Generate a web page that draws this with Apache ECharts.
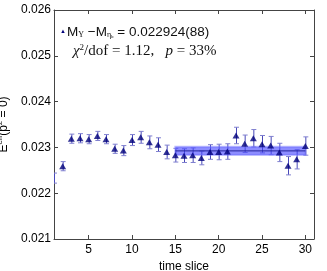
<!DOCTYPE html>
<html>
<head>
<meta charset="utf-8">
<script src="https://cdn.jsdelivr.net/npm/echarts@6/dist/echarts.min.js"></script>
<style>html,body{margin:0;padding:0;background:#fff;}#c{width:327px;height:271px;}</style>
</head>
<body>
<div id="c"></div>
<script>
const timeSlices = [1,2,3,4,5,6,7,8,9,10,11,12,13,14,15,16,17,18,19,20,21,22,23,24,25,26,27,28,29,30];
const effEnergy = [0.02233,0.02259,0.02319,0.02320,0.02318,0.02325,0.02318,0.02297,0.02293,0.02316,
                   0.02322,0.02311,0.02306,0.02290,0.02283,0.02282,0.02283,0.02277,0.02290,0.02290,
                   0.02291,0.02326,0.02308,0.02320,0.02307,0.02304,0.02289,0.02260,0.02274,0.02303];
const effErr = [0.00011,0.00010,0.00010,0.00010,0.00010,0.00010,0.00010,0.00010,0.00011,0.00012,
                0.00013,0.00014,0.00015,0.00015,0.00015,0.00015,0.00016,0.00015,0.00016,0.00017,
                0.00017,0.00018,0.00019,0.00019,0.00019,0.00020,0.00020,0.00020,0.00021,0.00020];
const fitRange = [15, 30];
const fitValue = 0.022924;
const fitErr = 0.000088;
const xMin = 1, xMax = 31;
const xTicks = [5,10,15,20,25,30];

const pts = timeSlices.map((t,i)=>[t, effEnergy[i], effErr[i]]);
const sans = 'Liberation Sans';
const serif = 'Liberation Serif';

const chart = echarts.init(document.getElementById('c'), null, {renderer:'canvas'});
const axisLine = {show:true, lineStyle:{color:'#444', width:1}};
const xBase = {
  type:'value', min:xMin, max:xMax, interval:1,
  axisLine:axisLine,
  axisTick:{show:true, inside:true, length:4, customValues:xTicks, lineStyle:{color:'#444'}},
  splitLine:{show:false}
};
const option = {
  animation:false,
  backgroundColor:'#fff',
  grid:{left:54, right:13, top:10, bottom:32, containLabel:false, outerBoundsMode:'none'},
  xAxis:[Object.assign({}, xBase, {
    position:'bottom',
    axisLabel:{customValues:xTicks, color:'#000', fontFamily:sans, fontSize:12, margin:5},
    name:'time slice', nameLocation:'middle', nameGap:22,
    nameTextStyle:{color:'#000', fontFamily:sans, fontSize:12}
  }), Object.assign({}, xBase, {
    position:'top', axisLabel:{show:false}
  })],
  yAxis:[{
    type:'value', min:0.021, max:0.026, interval:0.001, position:'left',
    axisLine:axisLine,
    axisTick:{show:true, inside:true, length:4, lineStyle:{color:'#444'}},
    axisLabel:{color:'#000', fontFamily:sans, fontSize:12, margin:3, formatter:v=>v.toFixed(3)},
    splitLine:{show:false},
    name:'{n|E}{sup|eff}{n|(p}{sup|2}{n| = 0)}', nameLocation:'middle', nameGap:43, nameRotate:90,
    nameTextStyle:{rich:{
      n:{fontFamily:sans, fontSize:12, color:'#000', verticalAlign:'bottom', lineHeight:14},
      sup:{fontFamily:sans, fontSize:8, color:'#000', verticalAlign:'top', lineHeight:14}
    }}
  },{
    type:'value', min:0.021, max:0.026, interval:0.001, position:'right',
    axisLine:axisLine,
    axisTick:{show:true, inside:true, length:4, lineStyle:{color:'#444'}},
    axisLabel:{show:false}, splitLine:{show:false}
  }],
  series:[{
    type:'custom', name:'errors', clip:true, z:1,
    data:pts,
    encode:{x:0, y:1},
    renderItem:function(params, api){
      const x=api.value(0), y=api.value(1), e=api.value(2);
      const top=api.coord([x,y+e]), bot=api.coord([x,y-e]);
      const cx = top[0] + 0.5;
      const hw=2.5;
      return {type:'group', children:[
        {type:'line', shape:{x1:cx,y1:top[1],x2:cx,y2:bot[1]}, style:{stroke:'#4848b8', lineWidth:1}},
        {type:'line', shape:{x1:cx-hw,y1:top[1],x2:cx+hw,y2:top[1]}, style:{stroke:'#8080d0', lineWidth:1}},
        {type:'line', shape:{x1:cx-hw,y1:bot[1],x2:cx+hw,y2:bot[1]}, style:{stroke:'#8080d0', lineWidth:1}}
      ]};
    }
  },{
    type:'custom', name:'fit', clip:true, z:2,
    data:[[fitRange[0], fitValue, fitErr, fitRange[1]]],
    encode:{x:0, y:1},
    renderItem:function(params, api){
      const x0=api.value(0), v=api.value(1), e=api.value(2), x1=api.value(3);
      const a=api.coord([x0, v+e]), b=api.coord([x1, v-e]);
      const c0=api.coord([x0, v]), c1=api.coord([x1, v]);
      return {type:'group', children:[
        {type:'rect', shape:{x:a[0], y:a[1], width:b[0]-a[0], height:b[1]-a[1]},
         style:{fill:'rgba(70,70,255,0.62)', stroke:'rgba(110,110,255,0.45)', lineWidth:2}},
        {type:'line', shape:{x1:c0[0],y1:c0[1],x2:c1[0],y2:c1[1]}, style:{stroke:'#22229a', lineWidth:1}}
      ]};
    }
  },{
    type:'scatter', name:'points', clip:true, z:3,
    data:pts.filter(p=>p[0]>xMin).map(p=>[p[0],p[1]]),
    symbol:'triangle', symbolSize:[7,6],
    itemStyle:{color:'#00007a'}
  }],
  graphic:[{
    type:'text', left:60, top:28,
    style:{text:'▲', fontSize:6, fill:'#00007a'}
  },{
    type:'text', left:67, top:25,
    style:{
      text:'{n|M}{sub|Υ}{n| −M}{sub|η}{sub2|b}{n| = 0.022924(88)}',
      rich:{
        n:{fontFamily:sans, fontSize:13.5, fill:'#111', verticalAlign:'bottom', lineHeight:15},
        sub:{fontFamily:serif, fontSize:8, fill:'#111', verticalAlign:'bottom', lineHeight:12},
        sub2:{fontFamily:serif, fontSize:5, fill:'#111', verticalAlign:'bottom', lineHeight:10}
      }
    }
  },{
    type:'text', left:73, top:43,
    style:{
      text:'{it|χ}{sup|2}{n|/dof = 1.12,   }{it|p}{n| = 33%}',
      rich:{
        it:{fontFamily:serif, fontStyle:'italic', fontSize:15, fill:'#111', verticalAlign:'bottom', lineHeight:16},
        n:{fontFamily:serif, fontSize:15, fill:'#111', verticalAlign:'bottom', lineHeight:16},
        sup:{fontFamily:serif, fontSize:9, fill:'#111', verticalAlign:'top', lineHeight:16}
      }
    }
  }]
};
chart.setOption(option);
</script>
</body>
</html>
